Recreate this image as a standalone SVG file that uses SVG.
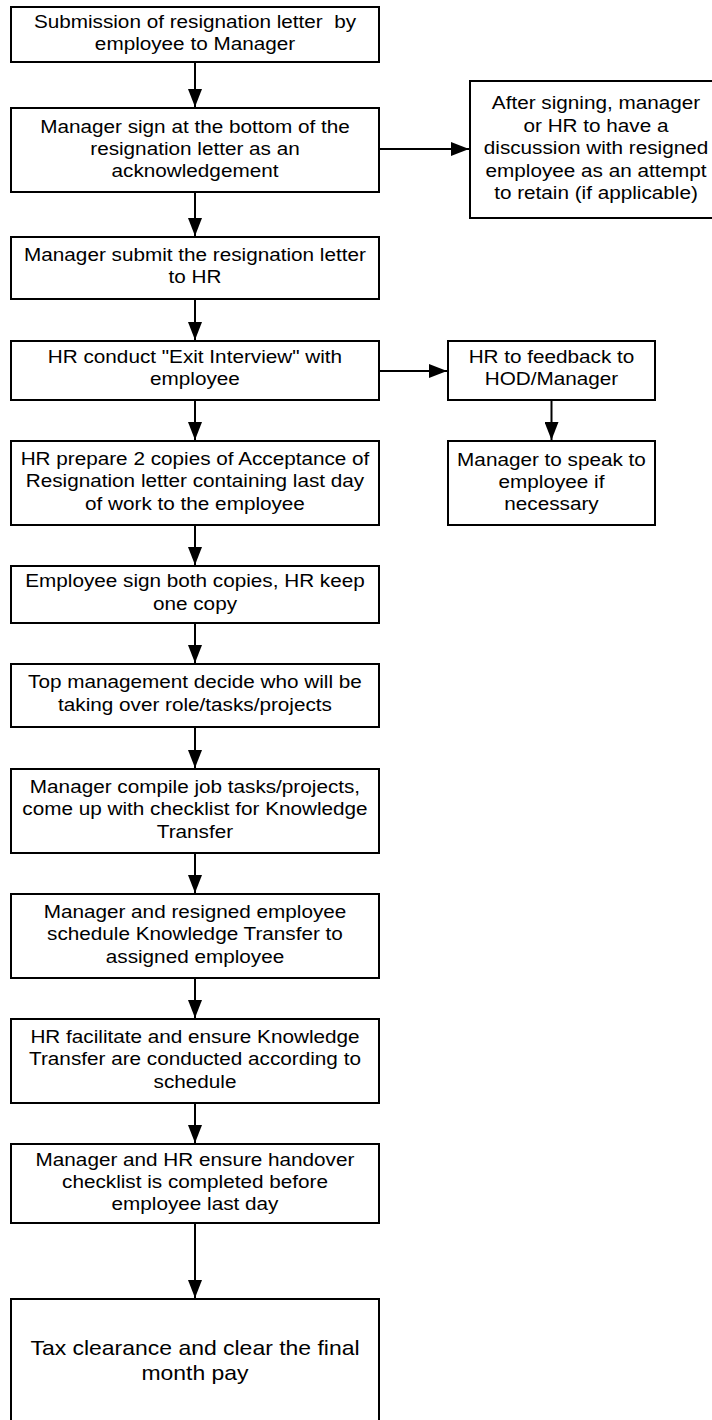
<svg xmlns="http://www.w3.org/2000/svg" width="712" height="1420" viewBox="0 0 712 1420">
<defs>
<style>
.box{fill:#fff;stroke:#000;stroke-width:2}
.t{font-family:"Liberation Sans",Arial,sans-serif;font-size:18.5px;fill:#000;text-anchor:middle;white-space:pre}
.big{font-size:20.5px}
.c{fill:none;stroke:#000;stroke-width:2}
</style>
<marker id="ah" viewBox="0 0 18 14" refX="18" refY="7" markerWidth="18" markerHeight="14" markerUnits="userSpaceOnUse" orient="auto">
<path d="M0,0 L18,7 L0,14 z" fill="#000"/>
</marker>
</defs>
<rect width="712" height="1420" fill="#fff"/>
<g id="connectors">
<line class="c" x1="195" y1="62" x2="195" y2="107" marker-end="url(#ah)"/>
<line class="c" x1="379" y1="149" x2="469" y2="149" marker-end="url(#ah)"/>
<line class="c" x1="195" y1="192" x2="195" y2="236" marker-end="url(#ah)"/>
<line class="c" x1="195" y1="299" x2="195" y2="340" marker-end="url(#ah)"/>
<line class="c" x1="379" y1="371" x2="447" y2="371" marker-end="url(#ah)"/>
<line class="c" x1="551.5" y1="400" x2="551.5" y2="440" marker-end="url(#ah)"/>
<line class="c" x1="195" y1="400" x2="195" y2="440" marker-end="url(#ah)"/>
<line class="c" x1="195" y1="525" x2="195" y2="565" marker-end="url(#ah)"/>
<line class="c" x1="195" y1="623" x2="195" y2="663" marker-end="url(#ah)"/>
<line class="c" x1="195" y1="727" x2="195" y2="768" marker-end="url(#ah)"/>
<line class="c" x1="195" y1="853" x2="195" y2="893" marker-end="url(#ah)"/>
<line class="c" x1="195" y1="978" x2="195" y2="1018" marker-end="url(#ah)"/>
<line class="c" x1="195" y1="1103" x2="195" y2="1143" marker-end="url(#ah)"/>
<line class="c" x1="195" y1="1223" x2="195" y2="1298" marker-end="url(#ah)"/>
</g>
<g id="n1">
<rect class="box" x="11" y="7" width="368" height="55"/>
<g transform="matrix(1.12 0 0 1 -23.4 0)"><text class="t" x="195" y="28.5" xml:space="preserve">Submission of resignation letter  by</text><text class="t" x="195" y="50.5">employee to Manager</text></g>
</g>
<g id="n2">
<rect class="box" x="11" y="108" width="368" height="84"/>
<g transform="matrix(1.12 0 0 1 -23.4 0)"><text class="t" x="195" y="133">Manager sign at the bottom of the</text><text class="t" x="195" y="155">resignation letter as an</text><text class="t" x="195" y="177">acknowledgement</text></g>
</g>
<g id="n2r">
<rect class="box" x="470" y="81" width="252" height="137"/>
<g transform="matrix(1.12 0 0 1 -71.52 0)"><text class="t" x="596" y="109.5">After signing, manager</text><text class="t" x="596" y="132">or HR to have a</text><text class="t" x="596" y="154.5">discussion with resigned</text><text class="t" x="596" y="177">employee as an attempt</text><text class="t" x="596" y="199.5">to retain (if applicable)</text></g>
</g>
<g id="n3">
<rect class="box" x="11" y="237" width="368" height="62"/>
<g transform="matrix(1.12 0 0 1 -23.4 0)"><text class="t" x="195" y="261">Manager submit the resignation letter</text><text class="t" x="195" y="283">to HR</text></g>
</g>
<g id="n4">
<rect class="box" x="11" y="341" width="368" height="59"/>
<g transform="matrix(1.12 0 0 1 -23.4 0)"><text class="t" x="195" y="363">HR conduct "Exit Interview" with</text><text class="t" x="195" y="385.5">employee</text></g>
</g>
<g id="n4r">
<rect class="box" x="448" y="341" width="207" height="59"/>
<g transform="matrix(1.12 0 0 1 -66.18 0)"><text class="t" x="551.5" y="363">HR to feedback to</text><text class="t" x="551.5" y="385.5">HOD/Manager</text></g>
</g>
<g id="n5r">
<rect class="box" x="448" y="441" width="207" height="84"/>
<g transform="matrix(1.12 0 0 1 -66.18 0)"><text class="t" x="551.5" y="466">Manager to speak to</text><text class="t" x="551.5" y="488">employee if</text><text class="t" x="551.5" y="510">necessary</text></g>
</g>
<g id="n5">
<rect class="box" x="11" y="441" width="368" height="84"/>
<g transform="matrix(1.12 0 0 1 -23.4 0)"><text class="t" x="195" y="465.5">HR prepare 2 copies of Acceptance of</text><text class="t" x="195" y="487.5">Resignation letter containing last day</text><text class="t" x="195" y="510">of work to the employee</text></g>
</g>
<g id="n6">
<rect class="box" x="11" y="566" width="368" height="57"/>
<g transform="matrix(1.12 0 0 1 -23.4 0)"><text class="t" x="195" y="587.5">Employee sign both copies, HR keep</text><text class="t" x="195" y="610">one copy</text></g>
</g>
<g id="n7">
<rect class="box" x="11" y="664" width="368" height="63"/>
<g transform="matrix(1.12 0 0 1 -23.4 0)"><text class="t" x="195" y="688.5">Top management decide who will be</text><text class="t" x="195" y="711">taking over role/tasks/projects</text></g>
</g>
<g id="n8">
<rect class="box" x="11" y="769" width="368" height="84"/>
<g transform="matrix(1.12 0 0 1 -23.4 0)"><text class="t" x="195" y="793.5">Manager compile job tasks/projects,</text><text class="t" x="195" y="815.5">come up with checklist for Knowledge</text><text class="t" x="195" y="838">Transfer</text></g>
</g>
<g id="n9">
<rect class="box" x="11" y="894" width="368" height="84"/>
<g transform="matrix(1.12 0 0 1 -23.4 0)"><text class="t" x="195" y="918.5">Manager and resigned employee</text><text class="t" x="195" y="940.5">schedule Knowledge Transfer to</text><text class="t" x="195" y="963">assigned employee</text></g>
</g>
<g id="n10">
<rect class="box" x="11" y="1019" width="368" height="84"/>
<g transform="matrix(1.12 0 0 1 -23.4 0)"><text class="t" x="195" y="1043.5">HR facilitate and ensure Knowledge</text><text class="t" x="195" y="1065.5">Transfer are conducted according to</text><text class="t" x="195" y="1088">schedule</text></g>
</g>
<g id="n11">
<rect class="box" x="11" y="1144" width="368" height="79"/>
<g transform="matrix(1.12 0 0 1 -23.4 0)"><text class="t" x="195" y="1166">Manager and HR ensure handover</text><text class="t" x="195" y="1188">checklist is completed before</text><text class="t" x="195" y="1210.5">employee last day</text></g>
</g>
<g id="n12">
<rect class="box" x="11" y="1299" width="368" height="140"/>
<g transform="matrix(1.12 0 0 1 -23.4 0)"><text class="t big" x="195" y="1355">Tax clearance and clear the final</text><text class="t big" x="195" y="1380">month pay</text></g>
</g>
</svg>
